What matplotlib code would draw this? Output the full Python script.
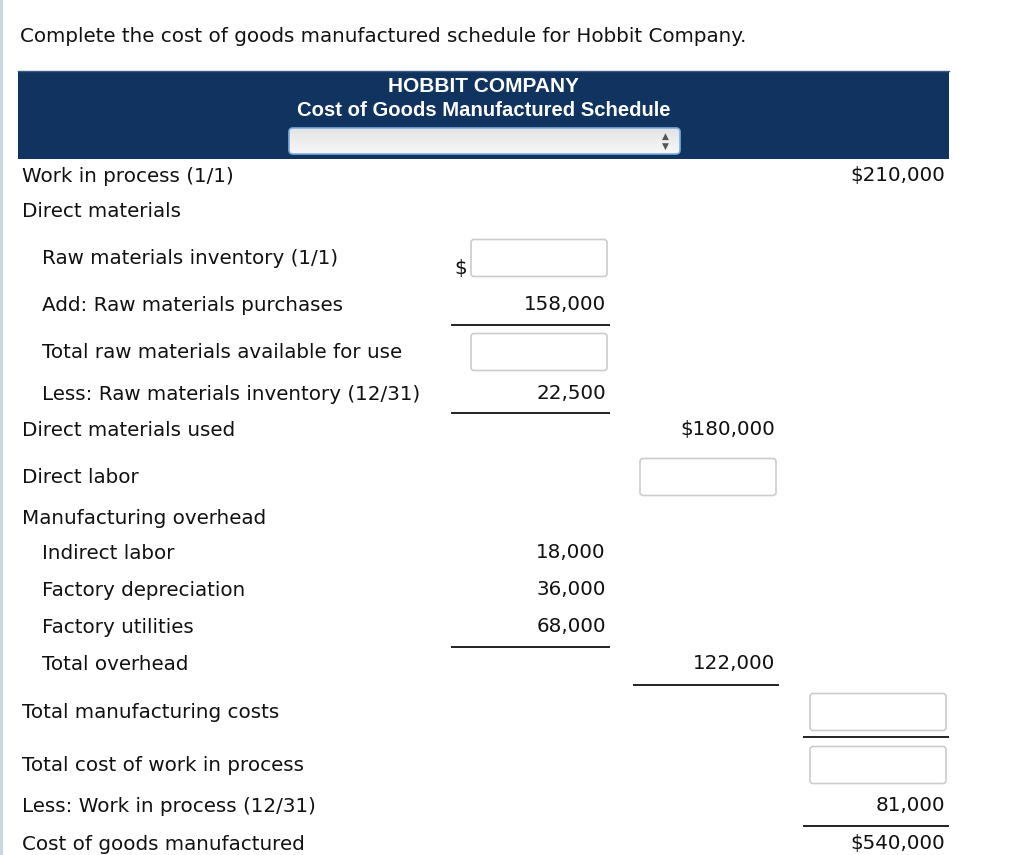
import matplotlib
matplotlib.use('Agg')
import matplotlib.pyplot as plt
import numpy as np
from matplotlib.patches import FancyBboxPatch, Rectangle


# schedule content
prompt = "Complete the cost of goods manufactured schedule for Hobbit Company."
company = "HOBBIT COMPANY"
schedule = "Cost of Goods Manufactured Schedule"

labels = ["Work in process (1/1)", "Direct materials",
          "Raw materials inventory (1/1)", "Add: Raw materials purchases",
          "Total raw materials available for use",
          "Less: Raw materials inventory (12/31)", "Direct materials used",
          "Direct labor", "Manufacturing overhead", "Indirect labor",
          "Factory depreciation", "Factory utilities", "Total overhead",
          "Total manufacturing costs", "Total cost of work in process",
          "Less: Work in process (12/31)", "Cost of goods manufactured"]
indented = [0, 0, 1, 1, 1, 1, 0, 0, 0, 1, 1, 1, 1, 0, 0, 0, 0]
# amounts per column, "box" = empty answer field
col1 = [None, None, "box", "158,000", "box", "22,500", None, None, None,
        "18,000", "36,000", "68,000", None, None, None, None, None]
col2 = [None, None, None, None, None, None, "$180,000", "box", None,
        None, None, None, "122,000", None, None, None, None]
col3 = ["$210,000", None, None, None, None, None, None, None, None,
        None, None, None, None, "box", "box", "81,000", "$540,000"]
# rows that get a rule underneath, per column
rule1 = [3, 5, 11]
rule2 = [12]
rule3 = [13, 15]

# layout (pixels from top)
row_y = [176, 211, 258, 305, 352, 394, 430, 477, 518, 553, 590, 627, 664,
         712, 765, 806, 844]
rule_y = {3: 325, 5: 413, 11: 647, 12: 685, 13: 737, 15: 826}
col_right = [606, 775, 945]
col_rule = [(451, 610), (633, 779), (803, 949)]

fig = plt.figure(figsize=(10.24, 8.55), dpi=100)
ax = fig.add_axes([0, 0, 1, 1])
ax.set_xlim(0, 1024)
ax.set_ylim(855, 0)
ax.axis('off')

fs = 14.3
txt = '#111111'

# left page border
ax.add_patch(Rectangle((0, 0), 3, 855, color='#c9d6e8', lw=0))

ax.text(20, 36, prompt, fontsize=fs, color=txt, va='center', ha='left')

# header band
ax.add_patch(Rectangle((18, 71), 931, 88, color='#10335f', lw=0))
ax.plot([18, 949], [71.5, 71.5], color='#3c5c85', lw=1)
ax.text(484, 87, company, fontsize=15, fontweight='bold', color='white',
        ha='center', va='center', family='Liberation Sans')
ax.text(484, 111, schedule, fontsize=14.6, fontweight='bold', color='white',
        ha='center', va='center', family='Liberation Sans')

# dropdown with soft vertical gradient
dd = FancyBboxPatch((289, 128), 391, 26,
                    boxstyle='round,pad=0,rounding_size=4',
                    fc='none', ec='#7aaee0', lw=1.2, zorder=3)
ax.add_patch(dd)
grad = np.linspace(0.89, 0.97, 50).reshape(-1, 1)
im = ax.imshow(np.repeat(grad, 2, axis=1), cmap='gray', vmin=0, vmax=1,
               extent=(289, 680, 154, 128), aspect='auto', zorder=2)
im.set_clip_path(dd)
ax.set_xlim(0, 1024)
ax.set_ylim(855, 0)
ax.text(665, 136.5, "\u25b2", fontsize=6.5, color='#555555', ha='center',
        va='center', zorder=4)
ax.text(665, 146, "\u25bc", fontsize=6.5, color='#555555', ha='center',
        va='center', zorder=4)


def answer_box(xr, yc):
    ax.add_patch(FancyBboxPatch((xr - 136, yc - 18.5), 136, 37,
                                boxstyle='round,pad=0,rounding_size=3',
                                fc='white', ec='#cccccc', lw=1.2))


for i, lab in enumerate(labels):
    y = row_y[i]
    ax.text(42 if indented[i] else 22, y, lab, fontsize=fs, color=txt,
            ha='left', va='center')
    for c, col in enumerate([col1, col2, col3]):
        v = col[i]
        if v is None:
            continue
        if v == "box":
            answer_box(col_right[c] + 1, y)
        else:
            ax.text(col_right[c], y - 1, v, fontsize=fs, color=txt,
                    ha='right', va='center')

# dollar sign before first box
ax.text(461, 268, "$", fontsize=fs, color=txt, ha='center', va='center')

for c, rows in enumerate([rule1, rule2, rule3]):
    for r in rows:
        ax.plot(col_rule[c], [rule_y[r], rule_y[r]], color='#111111', lw=1.3,
                solid_capstyle='butt')

fig.savefig("out.png", dpi=100)
